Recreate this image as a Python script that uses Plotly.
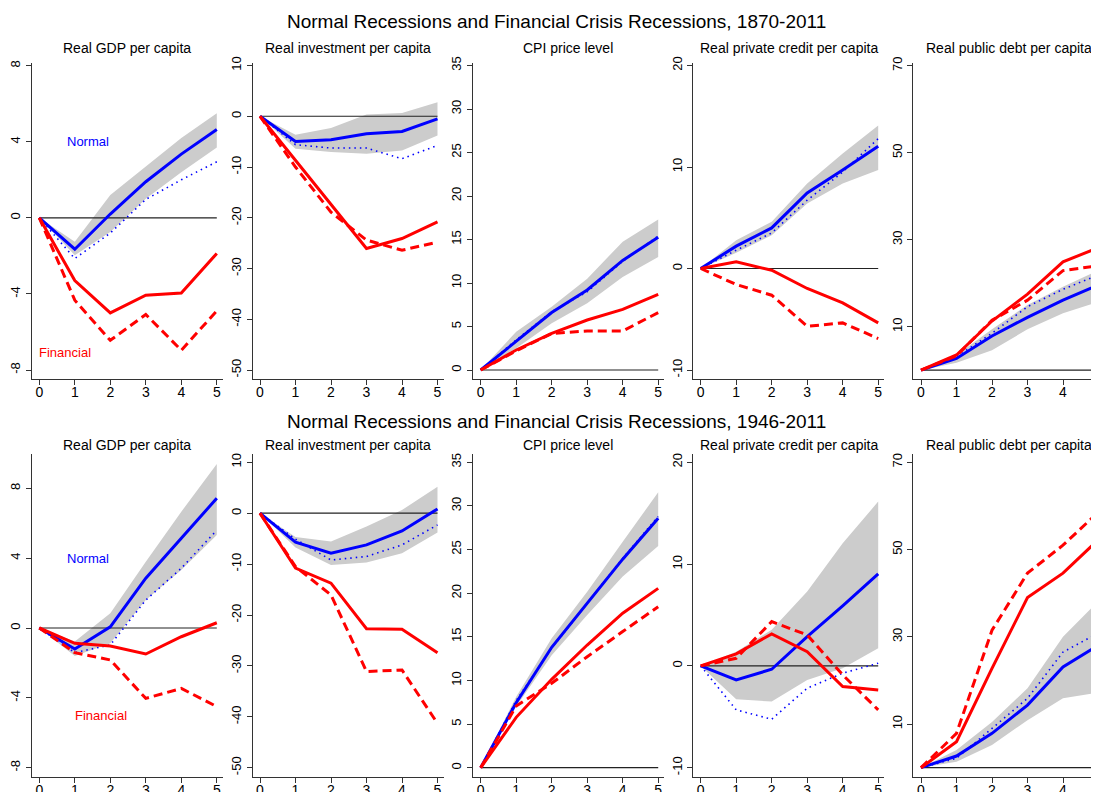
import plotly.graph_objects as go

# ---------------- DATA ----------------
horizons = [0, 1, 2, 3, 4, 5]
panel_titles = ["Real GDP per capita", "Real investment per capita", "CPI price level",
                "Real private credit per capita", "Real public debt per capita"]
row_titles = ["Normal Recessions and Financial Crisis Recessions, 1870-2011",
              "Normal Recessions and Financial Crisis Recessions, 1946-2011"]

gdp_ticks = [-8, -4, 0, 4, 8]
inv_ticks = [-50, -40, -30, -20, -10, 0, 10]
cpi_ticks = [0, 5, 10, 15, 20, 25, 30, 35]
credit_ticks = [-10, 0, 10, 20]
debt_ticks = [10, 30, 50, 70]

# ---- 1870-2011 ----
gdp70_normal = [0, -1.65, 0.2, 1.9, 3.35, 4.65]
gdp70_upper = [0, -1.26, 1.2, 2.7, 4.2, 5.5]
gdp70_lower = [0, -1.96, -0.74, 1.0, 2.4, 3.7]
gdp70_normal_cond = [0, -2.14, -0.8, 0.97, 2.0, 2.95]
gdp70_fin = [0, -3.3, -5.0, -4.07, -3.95, -1.87]
gdp70_fin_cond = [0, -4.33, -6.44, -5.08, -6.96, -4.89]

inv70_normal = [0, -4.96, -4.63, -3.45, -3.0, -0.5]
inv70_upper = [0, -3.64, -2.33, 0.35, 0.62, 2.78]
inv70_lower = [0, -6.4, -7.06, -7.38, -6.73, -3.78]
inv70_normal_cond = [0, -5.6, -6.27, -6.27, -8.37, -5.74]
inv70_fin = [0, -8.7, -17.4, -26.07, -24.1, -20.8]
inv70_fin_cond = [0, -10.0, -18.9, -24.4, -26.4, -24.8]

cpi70_normal = [0, 3.26, 6.6, 9.2, 12.6, 15.25]
cpi70_upper = [0, 4.4, 7.28, 10.5, 14.75, 17.3]
cpi70_lower = [0, 2.49, 5.37, 7.66, 10.7, 13.0]
cpi70_normal_cond = [0, 3.45, 6.7, 9.0, 12.5, 15.4]
cpi70_fin = [0, 2.3, 4.2, 5.75, 6.97, 8.7]
cpi70_fin_cond = [0, 2.2, 4.2, 4.48, 4.48, 6.6]

cred70_normal = [0, 2.2, 4.0, 7.45, 9.7, 12.05]
cred70_upper = [0, 2.79, 4.6, 8.37, 11.33, 14.1]
cred70_lower = [0, 1.54, 3.28, 6.4, 8.37, 9.7]
cred70_normal_cond = [0, 1.8, 3.5, 6.73, 9.5, 12.8]
cred70_fin = [0, 0.65, -0.17, -1.97, -3.39, -5.36]
cred70_fin_cond = [0, -1.58, -2.63, -5.69, -5.36, -6.9]

debt70_normal = [0, 2.7, 7.86, 12.16, 16.1, 19.6]
debt70_upper = [0, 3.5, 9.4, 15.0, 19.2, 23.0]
debt70_lower = [0, 1.7, 4.6, 9.4, 13.1, 15.7]
debt70_normal_cond = [0, 3.1, 8.5, 14.6, 18.6, 21.9]
debt70_fin = [0, 3.5, 11.3, 17.5, 24.9, 28.2]
debt70_fin_cond = [0, 3.3, 11.5, 16.1, 22.9, 24.0]

# ---- 1946-2011 ----
gdp46_normal = [0, -1.2, 0.07, 2.85, 5.14, 7.43]
gdp46_upper = [0, -0.78, 0.84, 3.8, 6.66, 9.39]
gdp46_lower = [0, -1.6, -0.88, 1.6, 3.32, 5.33]
gdp46_normal_cond = [0, -1.41, -0.97, 1.6, 3.42, 5.6]
gdp46_fin = [0, -0.88, -1.03, -1.49, -0.5, 0.3]
gdp46_fin_cond = [0, -1.41, -1.83, -4.03, -3.46, -4.5]

inv46_normal = [0, -5.7, -7.86, -6.23, -3.48, 0.84]
inv46_upper = [0, -4.7, -5.57, -2.6, 0.65, 5.2]
inv46_lower = [0, -6.75, -10.2, -9.7, -7.86, -3.8]
inv46_normal_cond = [0, -5.1, -9.2, -8.5, -6.23, -2.3]
inv46_fin = [0, -10.8, -13.75, -22.7, -22.8, -27.4]
inv46_fin_cond = [0, -10.5, -16.05, -31.1, -30.8, -41.3]

cpi46_normal = [0, 7.45, 13.8, 18.84, 23.9, 28.58]
cpi46_upper = [0, 8.14, 14.83, 20.17, 25.9, 31.56]
cpi46_lower = [0, 7.0, 12.9, 17.5, 21.9, 25.4]
cpi46_normal_cond = [0, 7.7, 13.7, 18.9, 24.0, 28.8]
cpi46_fin = [0, 5.77, 10.13, 14.06, 17.7, 20.55]
cpi46_fin_cond = [0, 7.07, 9.67, 12.72, 15.6, 18.45]

cred46_normal = [0, -1.38, -0.33, 2.88, 5.9, 9.04]
cred46_upper = [0, 1.4, 3.54, 7.3, 12.05, 16.14]
cred46_lower = [0, -3.27, -3.5, -1.38, -0.23, 1.74]
cred46_normal_cond = [0, -4.32, -5.24, -2.19, -0.72, 0.26]
cred46_fin = [0, 1.18, 3.14, 1.4, -2.03, -2.36]
cred46_fin_cond = [0, 0.75, 4.35, 3.04, -0.88, -4.32]

debt46_normal = [0, 2.68, 7.87, 14.35, 23.1, 28.08]
debt46_upper = [0, 4.05, 10.5, 18.2, 30.0, 38.2]
debt46_lower = [0, 1.37, 5.2, 10.9, 15.9, 17.25]
debt46_normal_cond = [0, 2.15, 9.0, 15.9, 26.5, 30.9]
debt46_fin = [0, 5.95, 22.75, 39.0, 44.6, 52.3]
debt46_fin_cond = [0, 7.87, 31.5, 44.6, 51.0, 58.6]

panels = [
    (gdp70_normal, gdp70_upper, gdp70_lower, gdp70_normal_cond, gdp70_fin, gdp70_fin_cond, gdp_ticks),
    (inv70_normal, inv70_upper, inv70_lower, inv70_normal_cond, inv70_fin, inv70_fin_cond, inv_ticks),
    (cpi70_normal, cpi70_upper, cpi70_lower, cpi70_normal_cond, cpi70_fin, cpi70_fin_cond, cpi_ticks),
    (cred70_normal, cred70_upper, cred70_lower, cred70_normal_cond, cred70_fin, cred70_fin_cond, credit_ticks),
    (debt70_normal, debt70_upper, debt70_lower, debt70_normal_cond, debt70_fin, debt70_fin_cond, debt_ticks),
    (gdp46_normal, gdp46_upper, gdp46_lower, gdp46_normal_cond, gdp46_fin, gdp46_fin_cond, gdp_ticks),
    (inv46_normal, inv46_upper, inv46_lower, inv46_normal_cond, inv46_fin, inv46_fin_cond, inv_ticks),
    (cpi46_normal, cpi46_upper, cpi46_lower, cpi46_normal_cond, cpi46_fin, cpi46_fin_cond, cpi_ticks),
    (cred46_normal, cred46_upper, cred46_lower, cred46_normal_cond, cred46_fin, cred46_fin_cond, credit_ticks),
    (debt46_normal, debt46_upper, debt46_lower, debt46_normal_cond, debt46_fin, debt46_fin_cond, debt_ticks),
]

# ---------------- LAYOUT GEOMETRY (screen pixels) ----------------
W, H = 1099, 792
OFF_X, OFF_Y = 8, 8          # page body margin offset of the figure
col_left_px = [31.7, 252.7, 472.7, 693.3, 913.3]
col_zero_px = [39.3, 260.0, 480.7, 700.7, 921.0]
px_per_step = 35.5
plot_w = 191
row_top_px = [63, 454]
row_bot_px = [379, 777]
row_title_px = [21.7, 421.7]
sub_title_px = [47.7, 445]
ycal = [
    (8, 65.7, -8, 370), (10, 65.5, -50, 370), (35, 65.5, 0, 370), (20, 65.5, -10, 370), (70, 65.7, 0, 370.2),
    (8, 488.3, -8, 767.7), (10, 462.3, -50, 767.7), (35, 462.3, 0, 767.7), (20, 462.3, -10, 767.7), (70, 462.3, 0, 767.7),
]


def px_x(p):
    return (p - OFF_X) / W


def px_y(p):
    return 1 - (p - OFF_Y) / H


BLUE = "#0000ff"
RED = "#ff0000"
BAND = "#cccccc"
AXC = "#333333"
FONT = "Liberation Sans, Arial, sans-serif"

fig = go.Figure()
layout = dict(
    width=W, height=H, margin=dict(l=0, r=0, t=0, b=0, pad=0, autoexpand=False),
    paper_bgcolor="white", plot_bgcolor="white", showlegend=False,
    font=dict(family=FONT, color="black"),
)
annotations = []

for i, (normal, upper, lower, ncond, fin, fcond, yticks) in enumerate(panels):
    r, c = divmod(i, 5)
    k = i + 1
    xa = "x" if k == 1 else f"x{k}"
    ya = "y" if k == 1 else f"y{k}"

    fig.add_trace(go.Scatter(x=horizons, y=lower, mode="lines", line=dict(width=0, color=BAND),
                             xaxis=xa, yaxis=ya, hoverinfo="skip"))
    fig.add_trace(go.Scatter(x=horizons, y=upper, mode="lines", line=dict(width=0, color=BAND),
                             fill="tonexty", fillcolor=BAND, xaxis=xa, yaxis=ya, hoverinfo="skip"))
    fig.add_trace(go.Scatter(x=horizons, y=[0] * len(horizons), mode="lines",
                             line=dict(width=1.2, color="#222222"), xaxis=xa, yaxis=ya, hoverinfo="skip"))
    fig.add_trace(go.Scatter(x=horizons, y=ncond, mode="lines",
                             line=dict(width=1.6, color=BLUE, dash="1.5px,4px"), xaxis=xa, yaxis=ya))
    fig.add_trace(go.Scatter(x=horizons, y=normal, mode="lines",
                             line=dict(width=3, color=BLUE), xaxis=xa, yaxis=ya))
    fig.add_trace(go.Scatter(x=horizons, y=fin, mode="lines",
                             line=dict(width=3, color=RED), xaxis=xa, yaxis=ya))
    fig.add_trace(go.Scatter(x=horizons, y=fcond, mode="lines",
                             line=dict(width=3, color=RED, dash="9px,5px"), xaxis=xa, yaxis=ya))

    left = col_left_px[c]
    right = min(left + plot_w, W + OFF_X)
    x0 = col_zero_px[c]
    xdom = [px_x(left), px_x(right)]
    xrng = [(left - x0) / px_per_step, (right - x0) / px_per_step]

    top, bot = row_top_px[r], row_bot_px[r]
    va, pa, vb, pb = ycal[i]
    s = (pb - pa) / (va - vb)
    yrng = [va + (pa - bot) / s, va + (pa - top) / s]
    ydom = [px_y(bot), px_y(top)]

    xaxis_cfg = dict(
        domain=xdom, range=xrng, anchor=ya, tickvals=horizons, ticktext=[str(h) for h in horizons],
        showgrid=False, zeroline=False, showline=True, linecolor=AXC, linewidth=1.3,
        ticks="outside", ticklen=5, tickwidth=1.2, tickcolor=AXC, automargin=False,
        tickfont=dict(size=14, color="black", family=FONT),
    )
    try:
        go.layout.XAxis(ticklabelstandoff=-5)
        xaxis_cfg["ticklabelstandoff"] = -5
    except Exception:
        pass
    layout["xaxis" if k == 1 else f"xaxis{k}"] = xaxis_cfg
    layout["yaxis" if k == 1 else f"yaxis{k}"] = dict(
        domain=ydom, range=yrng, anchor=xa, tickvals=yticks, ticktext=[str(t) for t in yticks],
        showgrid=False, zeroline=False, showline=True, linecolor=AXC, linewidth=1.3,
        ticks="outside", ticklen=5, tickwidth=1.2, tickcolor=AXC, tickangle=-90, automargin=False,
        tickfont=dict(size=13, color="black", family=FONT),
    )

    annotations.append(dict(text=panel_titles[c], xref="paper", yref="paper",
                            x=px_x(left + plot_w / 2), y=px_y(sub_title_px[r]),
                            xanchor="center", yanchor="middle", showarrow=False,
                            font=dict(size=14, color="black", family=FONT)))

    if c == 0:
        nx, ny = (1.37, 4.0)
        fx, fy = (0.72, -7.1) if r == 0 else (1.73, -5.0)
        annotations.append(dict(text="Normal", xref=xa, yref=ya, x=nx, y=ny, showarrow=False,
                                xanchor="center", yanchor="middle",
                                font=dict(size=13, color=BLUE, family=FONT)))
        annotations.append(dict(text="Financial", xref=xa, yref=ya, x=fx, y=fy, showarrow=False,
                                xanchor="center", yanchor="middle",
                                font=dict(size=13, color=RED, family=FONT)))

for r in range(2):
    annotations.append(dict(text=row_titles[r], xref="paper", yref="paper",
                            x=px_x(556), y=px_y(row_title_px[r]),
                            xanchor="center", yanchor="middle", showarrow=False,
                            font=dict(size=19, color="black", family=FONT)))

layout["annotations"] = annotations
fig.update_layout(**layout)
fig.write_html("out.html")
